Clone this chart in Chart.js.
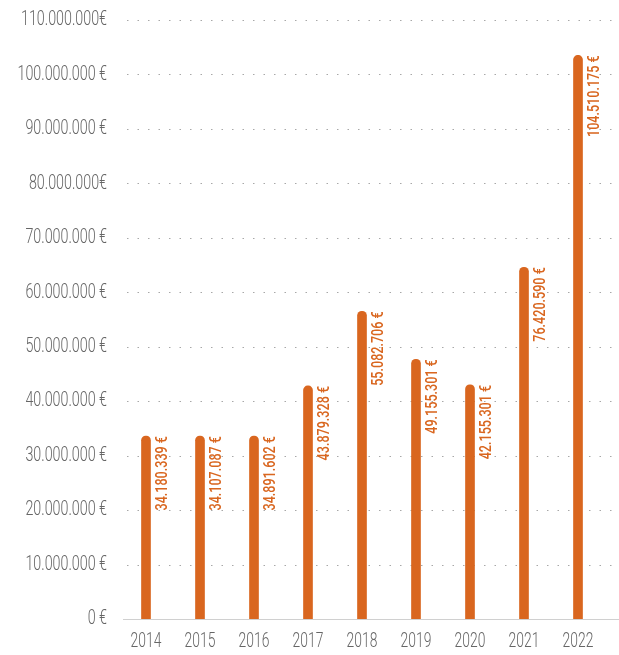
<!DOCTYPE html>
<html>
<head>
<meta charset="utf-8">
<script src="https://cdn.jsdelivr.net/npm/chart.js@4/dist/chart.umd.min.js"></script>
<style>
  html, body { margin: 0; padding: 0; background: #fff; }
  #wrap { width: 619px; height: 655px; }
</style>
</head>
<body>
<div id="wrap"><canvas id="budgetChart"></canvas></div>
<script>
const years = ['2014', '2015', '2016', '2017', '2018', '2019', '2020', '2021', '2022'];
// bar heights as drawn in the picture (in euros)
const barValues = [33600000, 33600000, 33600000, 42800000, 56500000, 47700000, 43000000, 64600000, 103500000];
// the printed amounts next to each bar
const valueLabels = ['34.180.339 €', '34.107.087 €', '34.891.602 €', '43.879.328 €', '55.082.706 €',
    '49.155.301 €', '42.155.301 €', '76.420.590 €', '104.510.175 €'];
const tickLabels = ['0 €', '10.000.000 €', '20.000.000 €', '30.000.000 €', '40.000.000 €', '50.000.000 €',
    '60.000.000 €', '70.000.000 €', '80.000.000€', '90.000.000 €', '100.000.000 €', '110.000.000€'];

const orange = '#d9661f';
const grey = '#666';
const fontFamily = 'Roboto, "Noto Sans", sans-serif';

// no condensed font installed, so text is squeezed horizontally
function narrowText(ctx, text, x, y, sx, rotate) {
    ctx.save();
    ctx.translate(x, y);
    if (rotate) ctx.rotate(-Math.PI / 2);
    ctx.scale(sx, 1);
    ctx.fillText(text, 0, 0);
    ctx.restore();
}

// dotted grid lines across the whole width, solid line at zero
const dottedGrid = {
    id: 'dottedGrid',
    beforeDatasetsDraw(chart) {
        const ctx = chart.ctx;
        const y = chart.scales.y;
        const left = chart.chartArea.left;
        ctx.save();
        y.ticks.forEach(t => {
            const py = Math.round(y.getPixelForValue(t.value)) + 0.5;
            ctx.beginPath();
            if (t.value === 0) {
                ctx.setLineDash([]);
                ctx.strokeStyle = '#d0d0d0';
                ctx.moveTo(left + 4, py);
            } else {
                ctx.setLineDash([1.5, 9]);
                ctx.strokeStyle = '#a8a8a8';
                ctx.moveTo(left + 8, py);
            }
            ctx.lineWidth = 1;
            ctx.lineTo(chart.width, py);
            ctx.stroke();
        });
        ctx.restore();
    }
};

// axis labels
const axisText = {
    id: 'axisText',
    afterDraw(chart) {
        const ctx = chart.ctx;
        const x = chart.scales.x;
        const y = chart.scales.y;
        ctx.save();
        ctx.fillStyle = grey;
        ctx.font = '300 21px ' + fontFamily;
        ctx.textBaseline = 'middle';
        ctx.textAlign = 'right';
        y.ticks.forEach((t, i) => {
            narrowText(ctx, tickLabels[i], y.right - 12, y.getPixelForValue(t.value), 0.68, false);
        });
        ctx.textAlign = 'center';
        years.forEach((yr, i) => {
            narrowText(ctx, yr, x.getPixelForTick(i), chart.chartArea.bottom + 23, 0.66, false);
        });
        ctx.restore();
    }
};

// rotated amount next to each bar
const barLabels = {
    id: 'barLabels',
    afterDatasetsDraw(chart) {
        const ctx = chart.ctx;
        const meta = chart.getDatasetMeta(0);
        ctx.save();
        ctx.fillStyle = orange;
        ctx.font = '500 17px ' + fontFamily;
        ctx.textAlign = 'right';
        ctx.textBaseline = 'middle';
        meta.data.forEach((bar, i) => {
            narrowText(ctx, valueLabels[i], bar.x + 17, bar.y, 0.74, true);
        });
        ctx.restore();
    }
};

const ctx = document.getElementById('budgetChart').getContext('2d');
new Chart(ctx, {
    type: 'bar',
    data: {
        labels: years,
        datasets: [{
            data: barValues,
            backgroundColor: orange,
            barThickness: 9,
            borderRadius: { topLeft: 5, topRight: 5 },
            borderSkipped: 'bottom'
        }]
    },
    options: {
        responsive: true,
        maintainAspectRatio: false,
        animation: false,
        layout: { padding: { top: 20, right: 14, left: 0, bottom: 0 } },
        plugins: {
            legend: { display: false },
            tooltip: { enabled: false }
        },
        scales: {
            x: {
                grid: { display: false },
                border: { display: false },
                ticks: { display: false },
                afterFit(scale) { scale.height = 36; }
            },
            y: {
                min: 0,
                max: 110000000,
                grid: { display: false },
                border: { display: false },
                ticks: { display: false, stepSize: 10000000 },
                afterFit(scale) { scale.width = 119; }
            }
        }
    },
    plugins: [dottedGrid, barLabels, axisText]
});
</script>
</body>
</html>
